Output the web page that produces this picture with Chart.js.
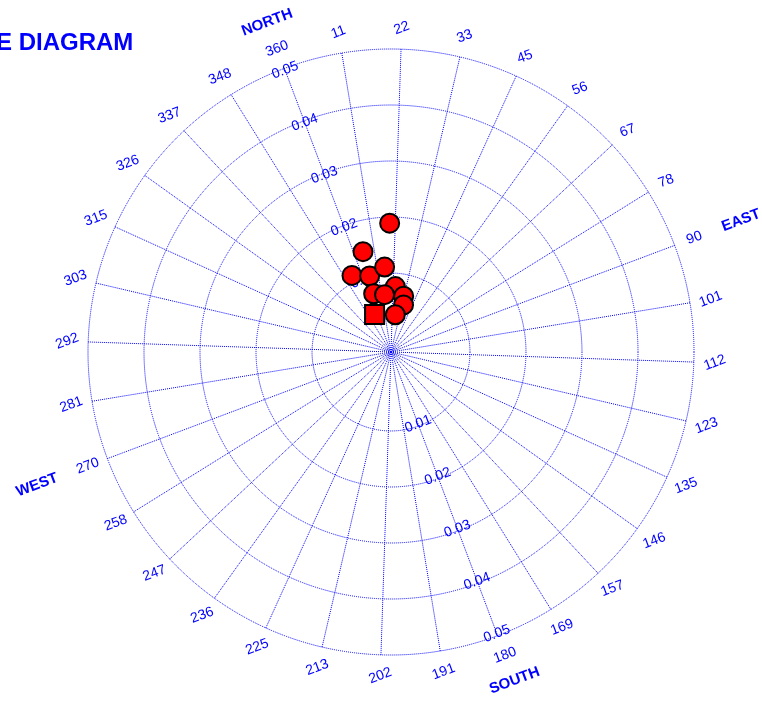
<!DOCTYPE html>
<html>
<head>
<meta charset="utf-8">
<script src="https://cdn.jsdelivr.net/npm/chart.js@4/dist/chart.umd.min.js"></script>
<style>
  html, body { margin: 0; padding: 0; background: #fff; }
  #wrap { width: 762px; height: 703px; }
</style>
</head>
<body>
<div id="wrap"><canvas id="myChart" width="762" height="703"></canvas></div>
<script>
// direction labels round the dial (one spoke every 11.25 degrees)
const angleLabels = ['360', '11', '22', '33', '45', '56', '67', '78', '90', '101', '112', '123',
    '135', '146', '157', '169', '180', '191', '202', '213', '225', '236', '247', '258',
    '270', '281', '292', '303', '315', '326', '337', '348'];
const compassLabels = ['NORTH', 'EAST', 'SOUTH', 'WEST'];
const radialTicks = [0.01, 0.02, 0.03, 0.04, 0.05];
const tickText = ['0.01', '0.02', '0.03', '0.04', '0.05'];

// measured points: direction (deg) and amplitude
const circleDirs = [20.0, 5.0, 353.6, 4.9, 16.3, 24.4, 33.4, 35.5, 4.0, 14.2, 27.2];
const circleMags = [0.0189, 0.0145, 0.01125, 0.0100, 0.0111, 0.0076, 0.0061, 0.0046, 0.00675, 0.0062, 0.0026];
const squareDirs = [356.9];
const squareMags = [0.0032];

const titleText = 'E DIAGRAM';
const blue = '#0000ff';

const overlay = {
    id: 'overlay',
    afterDraw(chart) {
        const r = chart.scales.r;
        const ctx = chart.ctx;
        const rot = r.options.startAngle * Math.PI / 180;
        const step = 360 / angleLabels.length;

        function textAt(txt, idx, dist, font) {
            const p = r.getPointPosition(idx, dist);
            ctx.save();
            ctx.translate(p.x, p.y);
            ctx.rotate(rot);
            ctx.font = font;
            ctx.fillStyle = blue;
            ctx.textAlign = 'center';
            ctx.textBaseline = 'middle';
            ctx.fillText(txt, 0, 0);
            ctx.restore();
        }

        // radial tick labels, both up the 360 spoke and down the 180 spoke
        radialTicks.forEach((v, i) => {
            const d = r.getDistanceFromCenterForValue(v) - 2;
            textAt(tickText[i], 0, d, '14px "Liberation Sans", Arial, sans-serif');
            textAt(tickText[i], 16, d, '14px "Liberation Sans", Arial, sans-serif');
        });

        // points
        function pos(dir, mag) {
            return r.getPointPosition(dir / step, r.getDistanceFromCenterForValue(mag));
        }
        ctx.save();
        ctx.fillStyle = '#ff0000';
        ctx.strokeStyle = '#000';
        ctx.lineWidth = 2;
        circleDirs.forEach((dir, i) => {
            const p = pos(dir, circleMags[i]);
            ctx.beginPath();
            ctx.arc(p.x, p.y, 9.5, 0, Math.PI * 2);
            ctx.fill();
            ctx.stroke();
        });
        squareDirs.forEach((dir, i) => {
            const p = pos(dir, squareMags[i]);
            ctx.beginPath();
            ctx.rect(p.x - 9.5, p.y - 9.5, 19, 19);
            ctx.fill();
            ctx.stroke();
        });
        ctx.restore();

        // spoke labels
        angleLabels.forEach((lab, i) => {
            textAt(lab, i, 324, '14px "Liberation Sans", Arial, sans-serif');
        });

        // compass words
        const compassDist = [352, 374, 351, 378];
        compassLabels.forEach((lab, i) => {
            textAt(lab, i * 8, compassDist[i], 'bold 15px "Liberation Sans", Arial, sans-serif');
        });

        // title (cut off at the left edge)
        ctx.save();
        ctx.font = 'bold 24px "Liberation Sans", Arial, sans-serif';
        ctx.fillStyle = blue;
        ctx.textAlign = 'left';
        ctx.textBaseline = 'alphabetic';
        ctx.fillText(titleText, -4, 50);
        ctx.restore();
    }
};

const ctx = document.getElementById('myChart').getContext('2d');
const myChart = new Chart(ctx, {
    type: 'radar',
    data: {
        labels: angleLabels,
        datasets: []
    },
    options: {
        responsive: false,
        animation: false,
        layout: {
            padding: { left: 88, top: 49, right: 68, bottom: 48 }
        },
        plugins: {
            legend: { display: false },
            tooltip: { enabled: false }
        },
        scales: {
            r: {
                min: -0.0041,
                max: 0.05,
                startAngle: -20.6,
                afterBuildTicks: (scale) => {
                    scale.ticks = radialTicks.map(v => ({ value: v }));
                },
                ticks: { display: false },
                grid: {
                    circular: true,
                    color: blue,
                    lineWidth: 1
                },
                border: { dash: [1, 1] },
                angleLines: {
                    color: blue,
                    lineWidth: 1,
                    borderDash: [1, 1]
                },
                pointLabels: { display: false }
            }
        }
    },
    plugins: [overlay]
});
</script>
</body>
</html>
